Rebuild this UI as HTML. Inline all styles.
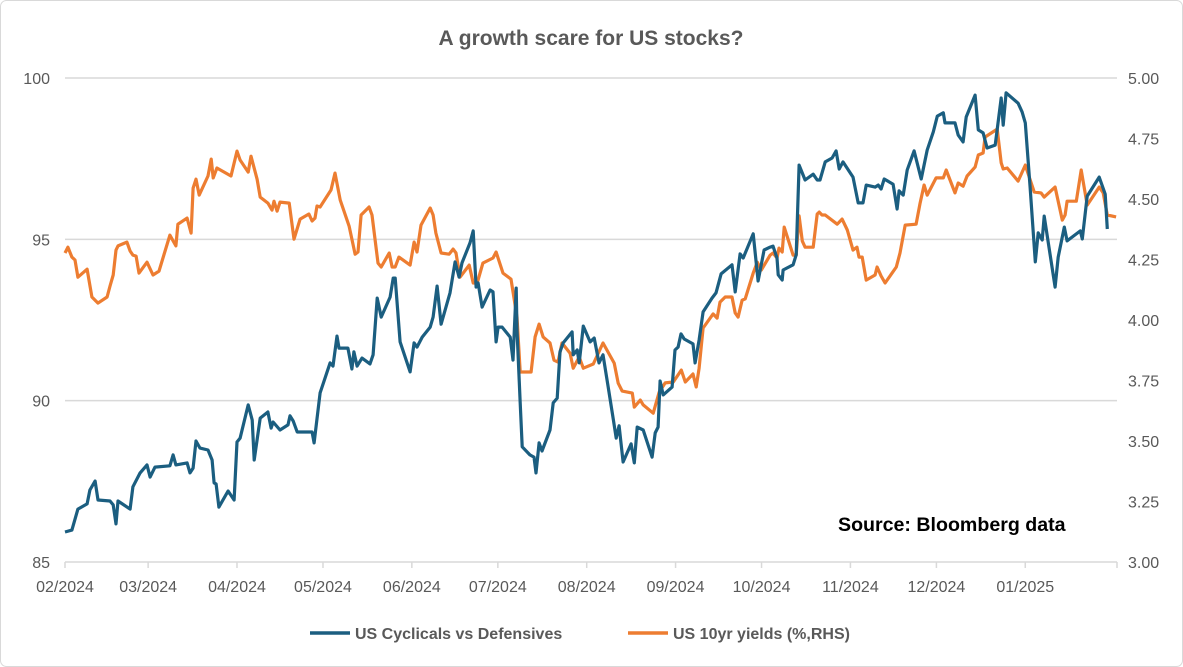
<!DOCTYPE html>
<html><head><meta charset="utf-8"><style>
html,body{margin:0;padding:0;background:#fff;}
svg{display:block;font-family:"Liberation Sans",sans-serif;}
</style></head><body>
<svg id="chart" width="1183" height="667" viewBox="0 0 1183 667" xmlns="http://www.w3.org/2000/svg">
<rect x="0.5" y="0.5" width="1182" height="666" rx="6" fill="#fff" stroke="#d9d9d9"/>
<text x="591" y="45" text-anchor="middle" font-size="21" font-weight="bold" fill="#595959">A growth scare for US stocks?</text>
<g id="grid"></g>
<g id="axes"></g>
<g id="series"></g>
<text x="838" y="531" font-size="19.6" font-weight="bold" fill="#000">Source: Bloomberg data</text>
<g>
<g>
<line x1="310" y1="633" x2="350" y2="633" stroke="#1b5e80" stroke-width="3.5"/>
<text x="355" y="639" font-size="16" font-weight="bold" fill="#595959">US Cyclicals vs Defensives</text>
</g>
<g>
<line x1="628" y1="633" x2="668" y2="633" stroke="#ed7d31" stroke-width="3.5"/>
<text x="673" y="639" font-size="16" font-weight="bold" fill="#595959">US 10yr yields (%,RHS)</text>
</g>
</g>
</svg>
<script>
const monthLabels=["02/2024","03/2024","04/2024","05/2024","06/2024","07/2024","08/2024","09/2024","10/2024","11/2024","12/2024","01/2025"];
const monthDays=[0,29,60,90,121,151,182,213,243,274,304,335];
const leftTicks=[85,90,95,100];
const rightTicks=["3.00","3.25","3.50","3.75","4.00","4.25","4.50","4.75","5.00"];
const cycDays=[0,2.4,4.5,7.7,8.7,10.5,11.5,15.7,16.8,17.8,18.5,22.7,23.7,26.2,28.6,29.7,31.4,36.6,37.7,38.7,42.6,43.6,44.7,45.7,47.1,49.9,51.3,52,52.7,53.7,56.9,59,60,61.1,63.9,65.3,66,68.1,70.8,71.9,72.6,75,77.8,78.5,79.6,81,86.2,86.9,89,92.5,93.5,94.9,95.6,98.7,100.1,100.8,101.9,103.6,106.4,107.5,108.9,110.3,113.4,114.5,115.2,116.9,120.4,121.8,122.8,124.6,127.4,128.4,129.8,131.2,134.3,136.1,137.5,138.5,141.3,142.4,143.4,144.1,145.5,148.3,149.3,150.4,151.1,152.5,155.3,156.3,157.4,157.7,158.8,159.5,162.2,163.6,164.3,165.4,166.4,169.2,170.3,171.7,172.7,173.8,176.9,177.3,178.7,179.4,180.8,183.2,184.6,186.3,187.7,189.5,191.3,192.3,193.3,194.7,197.5,198.6,199.6,201.7,204.8,205.9,206.9,207.6,208.7,211.8,212.8,213.9,214.9,216,219.1,219.8,221.2,222.6,225.7,227.1,228.9,232.7,233.8,235.5,236.6,240.1,241.8,243.9,246,247,248.4,248.8,250.2,250.5,254,255.1,256.1,258.2,261,262.4,263.4,265.2,267.6,269,270.1,271.4,274.9,276.7,278.4,279.5,282.6,283.7,284.7,285.8,288.9,290.3,291,292.4,293.8,296.2,298.7,300.8,302.9,304.3,306.4,307,310.5,311.6,313.3,314.4,317.5,318.6,320.3,321.7,324.5,326.6,327.3,328.3,332.5,333.9,335,336.7,338.5,339.5,340.9,341.6,345.4,346.5,348.6,349.6,354.2,354.9,356.6,360.8,362.9,363.6];
const cycValues=[85.93,85.99,86.64,86.8,87.23,87.51,86.92,86.89,86.77,86.18,86.89,86.64,87.33,87.76,88.01,87.63,87.94,87.98,88.32,88.01,88.07,87.76,87.91,88.75,88.53,88.47,88.16,87.45,87.42,86.7,87.2,86.92,88.72,88.84,89.87,89.4,88.16,89.46,89.65,89.15,89.34,89.09,89.25,89.53,89.37,89.03,89.03,88.69,90.24,91.17,91.07,92,91.63,91.63,90.98,91.51,91.07,91.32,91.14,91.42,93.18,92.59,93.21,93.8,93.8,91.82,90.89,91.79,91.66,91.97,92.28,92.59,93.55,92.37,93.34,94.3,93.83,94.27,94.89,95.26,93.52,93.65,92.9,93.43,93.37,91.82,92.28,92.28,91.97,91.26,93.49,92.19,89.93,88.57,88.32,88.25,87.76,88.69,88.44,89.09,89.93,90.08,91.51,91.79,92.13,91.42,91.57,91.17,92.31,91.82,91.94,91.17,91.42,90.42,89.4,88.84,89.22,88.1,88.66,88.07,89.18,89.09,88.25,89,89.18,90.61,90.18,90.42,91.57,91.66,92.07,91.91,91.76,91.17,91.88,92.75,93.18,93.34,93.93,94.21,93.37,94.55,94.42,95.17,93.71,94.67,94.76,94.79,94.42,93.9,93.74,94.05,94.21,94.52,97.3,96.84,97.02,96.84,96.84,97.4,97.52,97.74,97.18,97.4,96.93,96.13,96.13,96.68,96.62,96.68,96.56,96.87,96.71,95.94,96.5,96.37,97.15,97.74,96.87,97.77,98.33,98.82,98.92,98.61,98.61,98.23,98.02,98.79,99.47,98.39,98.3,97.83,97.92,99.38,98.54,99.54,99.22,98.95,98.61,96.62,94.3,95.2,94.98,95.72,93.52,94.45,95.38,94.95,95.26,95.01,96.34,96.93,96.4,95.32];
const yldDays=[0,1,2.4,3.5,4.5,7.7,9.4,11.5,14.7,15.7,16.8,17.8,18.5,21.6,22.7,23.7,24.8,25.8,28.6,30.7,32.8,36.6,38.7,39.4,42.6,44,44.7,45.7,46.8,49.9,51,51.7,53,57.9,60,61.1,63.9,64.9,67,68.1,70.8,72.2,72.9,74,75,78.2,79.9,82,85.1,86.2,87.2,87.9,89,92.8,94.2,96,99.1,101.2,102.2,103.3,106.1,107.1,109.2,110.3,113.1,114.1,115.2,116.5,120.4,121.8,122.8,124.2,127.4,128.4,129.4,131.2,134,135.4,136.4,137.8,141,142.4,143.8,145.8,149.3,150.4,152.8,155.6,157.7,158.8,162.6,164,165.4,166.8,169.2,170.6,172,173.4,176.2,177.3,179.4,180.8,184.3,187.7,191.6,193,194.4,197.9,198.6,200.7,201.7,205.2,207.3,209.4,212.2,215,216.4,219.1,220.2,221.2,222.6,226.1,227.5,228.5,230.3,232.7,233.8,234.8,236.2,237.3,240.1,241.5,242.9,246,247,248.4,249.1,250.2,250.9,254,255.1,256.1,257.2,258.2,261,262.4,263.1,264.1,265.2,269.4,271.1,272.9,274.9,276.3,277,278.1,279.5,282.6,283.3,284.7,286.1,290,291.3,293.1,296.9,298.3,299.7,300.8,303.9,306.4,307.4,310.5,311.6,313.3,314.7,317.5,318.6,320.3,321,325.2,326.6,327.3,328.7,332.5,335,338.1,340.5,341.6,345.4,347.9,348.9,349.6,352.8,354.5,356.6,360.8,362.2,363.6,366.7];
const yldValues=[4.277,4.301,4.26,4.248,4.177,4.21,4.095,4.07,4.095,4.14,4.186,4.289,4.306,4.322,4.285,4.268,4.264,4.194,4.239,4.186,4.202,4.351,4.306,4.396,4.421,4.359,4.545,4.582,4.516,4.595,4.665,4.587,4.628,4.595,4.698,4.661,4.611,4.677,4.582,4.508,4.483,4.454,4.491,4.45,4.487,4.483,4.334,4.417,4.438,4.409,4.421,4.471,4.467,4.537,4.607,4.496,4.388,4.272,4.281,4.434,4.467,4.434,4.235,4.219,4.277,4.219,4.219,4.26,4.227,4.322,4.281,4.392,4.463,4.434,4.359,4.277,4.272,4.293,4.277,4.177,4.227,4.153,4.153,4.235,4.256,4.281,4.194,4.169,4.012,3.785,3.785,3.93,3.983,3.93,3.905,3.834,3.826,3.905,3.863,3.801,3.847,3.801,3.818,3.905,3.822,3.739,3.706,3.698,3.64,3.669,3.649,3.615,3.702,3.74,3.744,3.793,3.744,3.777,3.723,3.801,3.967,4.025,4.008,4.074,4.095,4.095,4.029,4.012,4.082,4.087,4.194,4.239,4.206,4.268,4.277,4.256,4.297,4.281,4.384,4.268,4.268,4.43,4.326,4.301,4.301,4.438,4.446,4.434,4.434,4.396,4.417,4.372,4.289,4.301,4.26,4.26,4.165,4.186,4.219,4.182,4.153,4.219,4.277,4.392,4.396,4.483,4.558,4.516,4.587,4.587,4.62,4.525,4.566,4.553,4.595,4.632,4.682,4.69,4.756,4.789,4.649,4.624,4.628,4.574,4.64,4.529,4.525,4.508,4.549,4.413,4.434,4.491,4.491,4.62,4.475,4.549,4.525,4.434,4.426];

const NS="http://www.w3.org/2000/svg";
const X0=65,X1=1117,Y0=562,Y1=78,DMAX=367;
const xs=d=>X0+d*(X1-X0)/DMAX;
const yl=v=>Y0-(v-85)*(Y0-Y1)/15;
const yr=v=>Y0-(v-3)*(Y0-Y1)/2;
function mk(tag,attrs,parent,txt){const e=document.createElementNS(NS,tag);for(const k in attrs)e.setAttribute(k,attrs[k]);if(txt!==undefined)e.textContent=txt;parent.appendChild(e);return e;}
const grid=document.getElementById('grid'),axes=document.getElementById('axes'),series=document.getElementById('series');
leftTicks.forEach(t=>{
  const y=yl(t);
  if(t>85){const g=mk('line',{x1:X0,x2:X1,y1:y,y2:y,stroke:'#d9d9d9','stroke-width':1.5},grid);
  
  }
  const l=mk('text',{x:50,y:y+6,'text-anchor':'end','font-size':16,fill:'#595959'},axes,String(t));
  
  
});
rightTicks.forEach(t=>{
  const l=mk('text',{x:1128,y:yr(parseFloat(t))+6,'font-size':16,fill:'#595959'},axes,t);
  
  
});
const ax=mk('line',{x1:X0,x2:X1,y1:Y0,y2:Y0,stroke:'#d9d9d9','stroke-width':1.5},axes);


monthDays.forEach((d,i)=>{
  const x=xs(d);
  const tk=mk('line',{x1:x,x2:x,y1:Y0,y2:Y0+6,stroke:'#d9d9d9','stroke-width':1.5},axes);
  
  
  const l=mk('text',{x:x,y:Y0+30,'text-anchor':'middle','font-size':16,fill:'#595959'},axes,monthLabels[i]);
  
  
});
const tk2=mk('line',{x1:X1,x2:X1,y1:Y0,y2:Y0+6,stroke:'#d9d9d9','stroke-width':1.5},axes);


function path(days,vals,sc){return days.map((d,i)=>(i?'L':'M')+xs(d).toFixed(1)+','+sc(vals[i]).toFixed(1)).join('');}
const p1=mk('path',{d:path(yldDays,yldValues,yr),fill:'none',stroke:'#ed7d31','stroke-width':3.2,'stroke-linejoin':'round'},series);


const p2=mk('path',{d:path(cycDays,cycValues,yl),fill:'none',stroke:'#1b5e80','stroke-width':3.2,'stroke-linejoin':'round'},series);


</script>
</body></html>
